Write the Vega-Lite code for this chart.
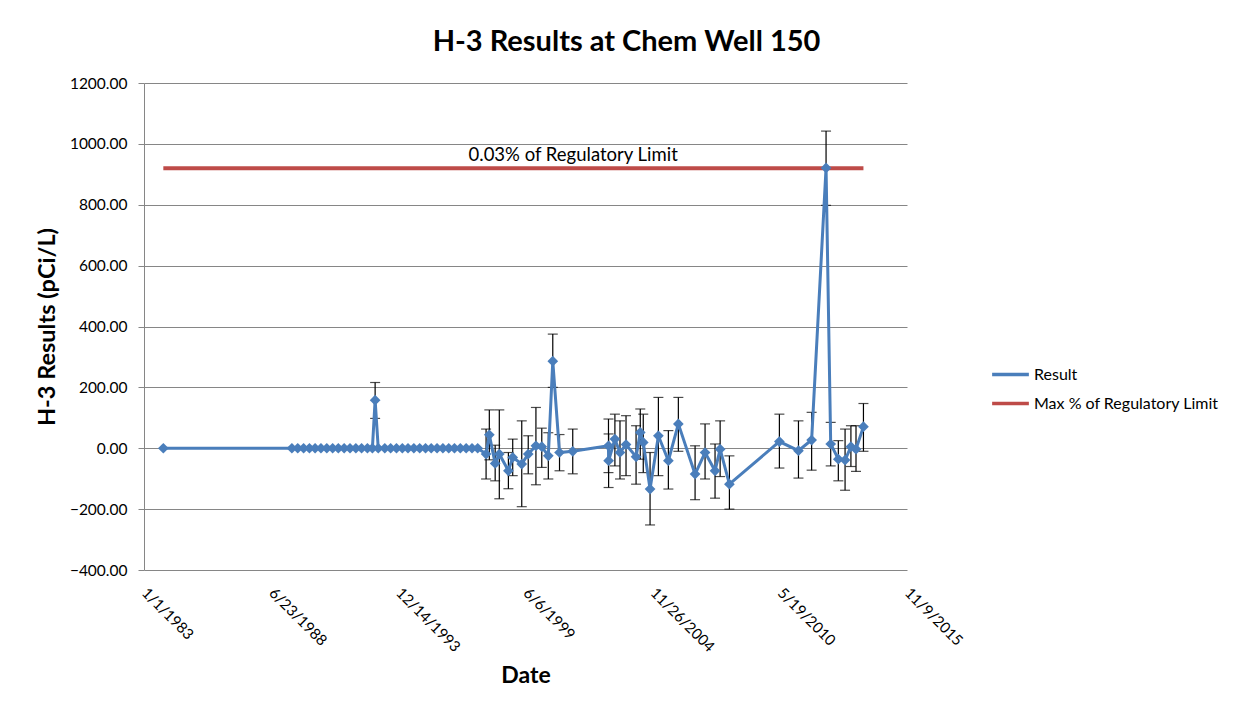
{
  "$schema": "https://vega.github.io/schema/vega-lite/v6.json",
  "width": 763,
  "height": 487,
  "autosize": {"type": "none"},
  "padding": {"left": 144, "top": 83, "right": 338, "bottom": 142},
  "background": "white",
  "config": {
    "font": "Lato",
    "view": {"stroke": null},
    "title": {"fontSize": 29, "fontWeight": "bold", "color": "#000000", "baseline": "alphabetic", "offset": 19, "dx": 101, "anchor": "middle"},
    "legend": {
      "orient": "none",
      "legendX": 846,
      "legendY": 271,
      "title": null,
      "labelFontSize": 16,
      "labelColor": "#000000",
      "labelLimit": 400,
      "symbolType": "stroke",
      "symbolSize": 1350,
      "symbolStrokeWidth": 3.5,
      "labelOffset": 3,
      "rowPadding": 0
    }
  },
  "title": {"text": "H-3 Results at Chem Well 150"},
  "datasets": {
    "results": [
      {"date": "1983-11-01T00:00:00", "value": 0},
      {"date": "1989-05-15T00:00:00", "value": 0},
      {"date": "1989-08-15T00:00:00", "value": 0},
      {"date": "1989-11-15T00:00:00", "value": 0},
      {"date": "1990-02-15T00:00:00", "value": 0},
      {"date": "1990-05-15T00:00:00", "value": 0},
      {"date": "1990-08-15T00:00:00", "value": 0},
      {"date": "1990-11-15T00:00:00", "value": 0},
      {"date": "1991-02-15T00:00:00", "value": 0},
      {"date": "1991-05-15T00:00:00", "value": 0},
      {"date": "1991-08-15T00:00:00", "value": 0},
      {"date": "1991-11-15T00:00:00", "value": 0},
      {"date": "1992-02-15T00:00:00", "value": 0},
      {"date": "1992-05-15T00:00:00", "value": 0},
      {"date": "1992-08-15T00:00:00", "value": 0},
      {"date": "1992-11-01T00:00:00", "value": 0},
      {"date": "1992-12-14T00:00:00", "value": 158, "lo": 98, "hi": 216},
      {"date": "1993-02-01T00:00:00", "value": 0},
      {"date": "1993-05-15T00:00:00", "value": 0},
      {"date": "1993-08-15T00:00:00", "value": 0},
      {"date": "1993-11-15T00:00:00", "value": 0},
      {"date": "1994-02-15T00:00:00", "value": 0},
      {"date": "1994-05-15T00:00:00", "value": 0},
      {"date": "1994-08-15T00:00:00", "value": 0},
      {"date": "1994-11-15T00:00:00", "value": 0},
      {"date": "1995-02-15T00:00:00", "value": 0},
      {"date": "1995-05-15T00:00:00", "value": 0},
      {"date": "1995-08-15T00:00:00", "value": 0},
      {"date": "1995-11-15T00:00:00", "value": 0},
      {"date": "1996-02-15T00:00:00", "value": 0},
      {"date": "1996-05-15T00:00:00", "value": 0},
      {"date": "1996-08-15T00:00:00", "value": 0},
      {"date": "1996-11-15T00:00:00", "value": 0},
      {"date": "1997-02-15T00:00:00", "value": 0},
      {"date": "1997-05-15T00:00:00", "value": 0},
      {"date": "1997-09-24T00:00:00", "value": -19, "lo": -101, "hi": 63},
      {"date": "1997-11-14T00:00:00", "value": 44, "lo": -38, "hi": 126},
      {"date": "1998-02-14T00:00:00", "value": -50, "lo": -107, "hi": 10},
      {"date": "1998-04-20T00:00:00", "value": -19, "lo": -166, "hi": 126},
      {"date": "1998-09-10T00:00:00", "value": -74, "lo": -133, "hi": -14},
      {"date": "1998-11-17T00:00:00", "value": -30, "lo": -90, "hi": 30},
      {"date": "1999-04-08T00:00:00", "value": -52, "lo": -192, "hi": 90},
      {"date": "1999-07-19T00:00:00", "value": -19, "lo": -84, "hi": 41},
      {"date": "1999-11-17T00:00:00", "value": 8, "lo": -120, "hi": 134},
      {"date": "2000-02-17T00:00:00", "value": 5, "lo": -63, "hi": 66},
      {"date": "2000-05-30T00:00:00", "value": -25, "lo": -101, "hi": 51},
      {"date": "2000-08-08T00:00:00", "value": 286, "lo": 200, "hi": 375},
      {"date": "2000-11-22T00:00:00", "value": -14, "lo": -74, "hi": 45},
      {"date": "2001-06-18T00:00:00", "value": -10, "lo": -84, "hi": 63},
      {"date": "2003-01-01T00:00:00", "value": 8, "lo": -80, "hi": 96},
      {"date": "2003-01-03T00:00:00", "value": -41, "lo": -129, "hi": 47},
      {"date": "2003-04-12T00:00:00", "value": 30, "lo": -58, "hi": 112},
      {"date": "2003-07-01T00:00:00", "value": -14, "lo": -101, "hi": 90},
      {"date": "2003-10-04T00:00:00", "value": 12, "lo": -90, "hi": 107},
      {"date": "2004-03-10T00:00:00", "value": -28, "lo": -118, "hi": 74},
      {"date": "2004-05-15T00:00:00", "value": 52, "lo": -36, "hi": 129},
      {"date": "2004-07-01T00:00:00", "value": 19, "lo": -80, "hi": 112},
      {"date": "2004-10-16T00:00:00", "value": -134, "lo": -252, "hi": -14},
      {"date": "2005-02-24T00:00:00", "value": 41, "lo": -90, "hi": 167},
      {"date": "2005-07-31T00:00:00", "value": -41, "lo": -134, "hi": 58},
      {"date": "2006-01-04T00:00:00", "value": 80, "lo": -10, "hi": 167},
      {"date": "2006-09-24T00:00:00", "value": -85, "lo": -169, "hi": 8},
      {"date": "2007-02-28T00:00:00", "value": -14, "lo": -101, "hi": 80},
      {"date": "2007-08-04T00:00:00", "value": -74, "lo": -164, "hi": 14},
      {"date": "2007-10-23T00:00:00", "value": -3, "lo": -93, "hi": 90},
      {"date": "2008-03-17T00:00:00", "value": -118, "lo": -200, "hi": -25},
      {"date": "2010-05-12T00:00:00", "value": 22, "lo": -65, "hi": 112},
      {"date": "2011-03-08T00:00:00", "value": -8, "lo": -98, "hi": 90},
      {"date": "2011-10-01T00:00:00", "value": 27, "lo": -72, "hi": 118},
      {"date": "2012-05-15T00:00:00", "value": 921, "lo": 798, "hi": 1042},
      {"date": "2012-07-27T00:00:00", "value": 14, "lo": -58, "hi": 85},
      {"date": "2012-11-24T00:00:00", "value": -36, "lo": -107, "hi": 25},
      {"date": "2013-03-10T00:00:00", "value": -39, "lo": -138, "hi": 63},
      {"date": "2013-06-10T00:00:00", "value": 5, "lo": -60, "hi": 74},
      {"date": "2013-08-29T00:00:00", "value": -3, "lo": -76, "hi": 74},
      {"date": "2013-12-24T00:00:00", "value": 71, "lo": -10, "hi": 147}
    ],
    "limit": [
      {"date": "1983-11-01T00:00:00", "value": 920},
      {"date": "2013-12-24T00:00:00", "value": 920}
    ],
    "label": [
      {"date": "2001-06-25T00:00:00", "value": 920, "text": "0.03% of Regulatory Limit"}
    ]
  },
  "encoding": {
    "x": {
      "field": "date",
      "type": "temporal",
      "scale": {
        "domain": [
          {"year": 1983, "month": 1, "date": 1},
          {"year": 2015, "month": 11, "date": 9}
        ],
        "nice": false
      },
      "axis": {
        "title": "Date",
        "titleFontSize": 23,
        "titleFontWeight": "bold",
        "titleColor": "#000000",
        "titlePadding": 10,
        "values": [
          {"year": 1983, "month": 1, "date": 1},
          {"year": 1988, "month": 6, "date": 23},
          {"year": 1993, "month": 12, "date": 14},
          {"year": 1999, "month": 6, "date": 6},
          {"year": 2004, "month": 11, "date": 26},
          {"year": 2010, "month": 5, "date": 19},
          {"year": 2015, "month": 11, "date": 9}
        ],
        "format": "%-m/%-d/%Y",
        "labelAngle": 45,
        "labelAlign": "left",
        "labelBaseline": "middle",
        "labelFontSize": 15,
        "labelColor": "#000000",
        "labelPadding": 20,
        "labelOverlap": false,
        "labelFlush": false,
        "domain": false,
        "ticks": false,
        "grid": false
      }
    },
    "y": {
      "field": "value",
      "type": "quantitative",
      "scale": {"domain": [-400, 1200], "nice": false, "zero": false},
      "axis": {
        "title": "H-3 Results (pCi/L)",
        "titleFontSize": 23.5,
        "titleFontWeight": "bold",
        "titleColor": "#000000",
        "titlePadding": 10,
        "values": [-400, -200, 0, 200, 400, 600, 800, 1000, 1200],
        "format": ".2f",
        "labelFontSize": 15.5,
        "labelColor": "#000000",
        "labelPadding": 11,
        "tickSize": 6,
        "tickColor": "#868686",
        "domainColor": "#868686",
        "gridColor": "#868686",
        "grid": true
      }
    }
  },
  "layer": [
    {
      "data": {"name": "results"},
      "transform": [{"filter": "isValid(datum.lo)"}],
      "mark": {"type": "rule", "color": "#000000", "strokeWidth": 1.2},
      "encoding": {"y": {"field": "lo", "type": "quantitative"}, "y2": {"field": "hi"}}
    },
    {
      "data": {"name": "results"},
      "transform": [{"filter": "isValid(datum.lo)"}],
      "mark": {"type": "tick", "orient": "horizontal", "color": "#000000", "size": 10, "thickness": 1.2},
      "encoding": {"y": {"field": "lo", "type": "quantitative"}}
    },
    {
      "data": {"name": "results"},
      "transform": [{"filter": "isValid(datum.hi)"}],
      "mark": {"type": "tick", "orient": "horizontal", "color": "#000000", "size": 10, "thickness": 1.2},
      "encoding": {"y": {"field": "hi", "type": "quantitative"}}
    },
    {
      "data": {"name": "limit"},
      "mark": {"type": "line", "strokeWidth": 4},
      "encoding": {
        "color": {
          "datum": "Max % of Regulatory Limit",
          "scale": {"domain": ["Result", "Max % of Regulatory Limit"], "range": ["#4A7EBB", "#BE4B48"]}
        }
      }
    },
    {
      "data": {"name": "results"},
      "mark": {"type": "line", "strokeWidth": 3},
      "encoding": {"color": {"datum": "Result"}}
    },
    {
      "data": {"name": "results"},
      "mark": {"type": "point", "shape": "diamond", "filled": true, "size": 115, "opacity": 1, "color": "#4A7EBB"}
    },
    {
      "data": {"name": "label"},
      "mark": {"type": "text", "fontSize": 18.5, "color": "#000000", "align": "center", "baseline": "alphabetic", "dy": -7},
      "encoding": {"text": {"field": "text"}}
    }
  ],
  "resolve": {"scale": {"color": "shared"}}
}
